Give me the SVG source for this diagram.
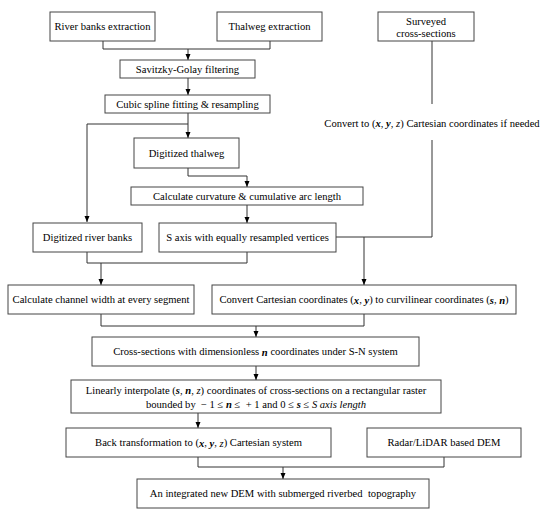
<svg xmlns="http://www.w3.org/2000/svg" width="550" height="516" viewBox="0 0 550 516">
<defs>
<marker id="ah" viewBox="0 0 6 6" refX="6" refY="3" markerWidth="6" markerHeight="6" markerUnits="userSpaceOnUse" orient="auto">
<path d="M0,0.5 L6,3 L0,5.5 Z" fill="#000"/>
</marker>
<style>
.b{fill:#fff;stroke:#444;stroke-width:1}
.t{font-family:"Liberation Serif","Times New Roman",serif;font-size:10.6px;fill:#000;text-anchor:middle;dominant-baseline:central}
.c{fill:none;stroke:#333;stroke-width:1}
.a{marker-end:url(#ah)}
.v{font-weight:bold;font-style:italic}
.i{font-style:italic}
</style>
</defs>
<rect width="550" height="516" fill="#fff"/>
<g id="connectors">
<path class="c" d="M103,41 V49 H270 V41"/>
<path class="c a" d="M188,49 V60"/>
<path class="c a" d="M188,78 V95"/>
<path class="c a" d="M188,113 V138"/>
<path class="c a" d="M188,124 H87 V222"/>
<path class="c" d="M188,168 V176 H247"/>
<path class="c a" d="M247,176 V187"/>
<path class="c a" d="M247,205 V223"/>
<path class="c" d="M432,41 V104"/>
<path class="c" d="M432,140 V237 H336"/>
<path class="c a" d="M364,237 V285"/>
<path class="c" d="M87,252 V263 H247 V252"/>
<path class="c a" d="M101,263 V285"/>
<path class="c" d="M101,314 V326 H364 V314"/>
<path class="c a" d="M256,326 V337"/>
<path class="c a" d="M256,366 V380"/>
<path class="c a" d="M198,413 V428"/>
<path class="c" d="M198,457 V467 H444 V457"/>
<path class="c a" d="M283,467 V479"/>
</g>
<g id="n1"><rect class="b" x="50" y="12" width="105" height="29"/><text class="t" x="102.5" y="26.5">River banks extraction</text></g>
<g id="n2"><rect class="b" x="217" y="12" width="105" height="29"/><text class="t" x="269.5" y="26.5">Thalweg extraction</text></g>
<g id="n3"><rect class="b" x="378" y="12" width="96" height="29"/><text class="t" x="426" y="21">Surveyed</text><text class="t" x="426" y="33">cross-sections</text></g>
<g id="n4"><rect class="b" x="120" y="60" width="135" height="18"/><text class="t" x="187.5" y="69">Savitzky-Golay filtering</text></g>
<g id="n5"><rect class="b" x="105" y="95" width="165" height="18"/><text class="t" x="187.5" y="104">Cubic spline fitting &amp; resampling</text></g>
<g id="n6"><text class="t" x="432" y="123">Convert to (<tspan class="v">x</tspan>, <tspan class="v">y</tspan>, <tspan class="i">z</tspan>) Cartesian coordinates if needed</text></g>
<g id="n7"><rect class="b" x="134" y="138" width="105" height="30"/><text class="t" x="186.5" y="153">Digitized thalweg</text></g>
<g id="n8"><rect class="b" x="131" y="187" width="232" height="18"/><text class="t" x="247" y="196">Calculate curvature &amp; cumulative arc length</text></g>
<g id="n9"><rect class="b" x="33" y="223" width="109" height="29"/><text class="t" x="87.5" y="237.5">Digitized river banks</text></g>
<g id="n10"><rect class="b" x="159" y="223" width="177" height="29"/><text class="t" x="247.5" y="237.5">S axis with equally resampled vertices</text></g>
<g id="n11"><rect class="b" x="8" y="285" width="186" height="29"/><text class="t" x="101" y="299.5">Calculate channel width at every segment</text></g>
<g id="n12"><rect class="b" x="212" y="285" width="304" height="29"/><text class="t" x="364" y="299.5">Convert Cartesian coordinates (<tspan class="v">x</tspan>, <tspan class="v">y</tspan>) to curvilinear coordinates (<tspan class="v">s</tspan>, <tspan class="v">n</tspan>)</text></g>
<g id="n13"><rect class="b" x="92" y="337" width="327" height="29"/><text class="t" x="255.5" y="351.5">Cross-sections with dimensionless <tspan class="v">n</tspan> coordinates under S-N system</text></g>
<g id="n14"><rect class="b" x="71" y="380" width="370" height="33"/><text class="t" x="256" y="390">Linearly interpolate (<tspan class="v">s</tspan>, <tspan class="v">n</tspan>, <tspan class="i">z</tspan>) coordinates of cross-sections on a rectangular raster</text><text class="t" x="256" y="404">bounded by &#160;− 1 ≤ <tspan class="v">n</tspan> ≤ &#160;+ 1 and 0 ≤ <tspan class="v">s</tspan> ≤ <tspan class="i">S axis length</tspan></text></g>
<g id="n15"><rect class="b" x="66" y="428" width="265" height="29"/><text class="t" x="198.5" y="442.5">Back transformation to (<tspan class="v">x</tspan>, <tspan class="v">y</tspan>, <tspan class="i">z</tspan>) Cartesian system</text></g>
<g id="n16"><rect class="b" x="367" y="428" width="154" height="29"/><text class="t" x="444" y="442.5">Radar/LiDAR based DEM</text></g>
<g id="n17"><rect class="b" x="137" y="479" width="292" height="29"/><text class="t" x="283" y="493.5">An integrated new DEM with submerged riverbed &#160;topography</text></g>
</svg>
